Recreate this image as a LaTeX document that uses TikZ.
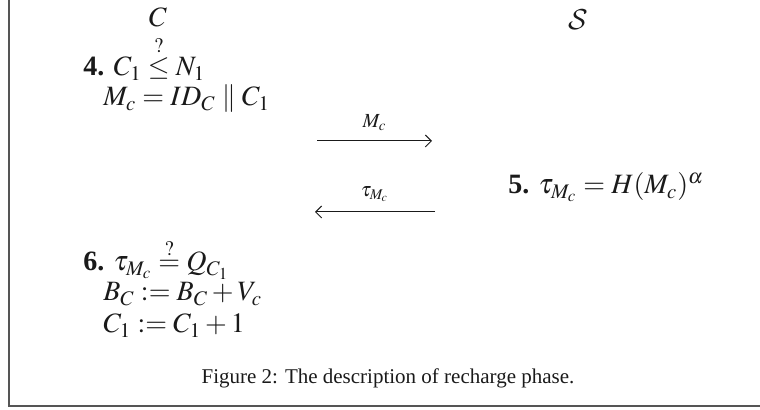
\documentclass[tikz,border=0pt]{standalone}
\usepackage{amsmath}
\usepackage{mathptmx}
\usepackage[no-math]{fontspec}
\setmainfont{Liberation Serif}
\usepackage{tikz}
\usetikzlibrary{arrows.meta,positioning}
\DeclareMathAlphabet{\cmcal}{OMS}{cmsy}{m}{n}
\definecolor{frame}{HTML}{555555}
\definecolor{ink}{HTML}{1A1A1A}

\begin{document}
\begin{tikzpicture}[x=0.5pt,y=-0.5pt,
    party/.style={font=\fontsize{14}{16}\selectfont, color=ink, anchor=base},
    stepline/.style={font=\fontsize{14}{16}\selectfont, color=ink, anchor=base west, inner sep=0pt},
    msglabel/.style={font=\fontsize{10}{12}\selectfont, color=ink, above=1.5pt},
    msg/.style={ink, line width=0.5pt, -{Straight Barb[length=3pt,width=6pt]}}]
  \useasboundingbox (0,0) rectangle (760,410);
  \draw[frame, line width=1pt] (8.7,0) -- (8.7,405.7) -- (760,405.7);
  % the two parties
  \node[party] (client) at (158,27) {$C$};
  \node[party] (server) at (578,30) {$\cmcal{S}$};
  % client side, first step
  \node[stepline] (check) at (83,76) {\textbf{4.} $C_1 \overset{?}{\leq} N_1$};
  \node[stepline] (msgc) at (103,106) {$M_c = ID_C \parallel C_1$};
  % request and reply
  \coordinate (reqA) at (317,141);
  \coordinate (reqB) at (432,141);
  \draw[msg] (reqA) -- node[msglabel] (reqlabel) {$M_c$} (reqB);
  \node[stepline] (sign) at (508,194) {\textbf{5.} $\tau_{M_c} = H(M_c)^{\alpha}$};
  \coordinate (repA) at (435,212);
  \coordinate (repB) at (315,212);
  \draw[msg] (repA) -- node[msglabel] (replabel) {$\tau_{M_c}$} (repB);
  % client side, last step
  \node[stepline] (verify) at (83,271) {\textbf{6.} $\tau_{M_c} \overset{?}{=} Q_{C_1}$};
  \node[stepline] (balance) at (103,301) {$B_C := B_C + V_c$};
  \node[stepline] (counter) at (103,333) {$C_1 := C_1 + 1$};
  \node[font=\fontsize{10.5}{12}\selectfont, color=ink, anchor=base] (caption) at (388,384)
    {Figure 2: The description of recharge phase.};
\end{tikzpicture}
\end{document}
